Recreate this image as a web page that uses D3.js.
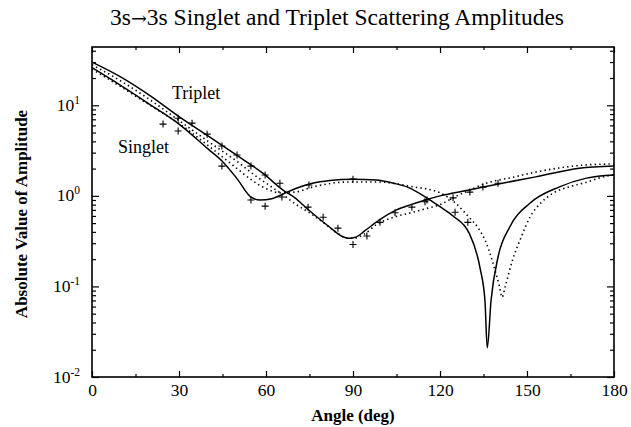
<!DOCTYPE html>
<html>
<head>
<meta charset="utf-8">
<script src="https://cdn.jsdelivr.net/npm/d3@7"></script>
<style>
  body { margin: 0; background: #fff; }
  svg { font-family: "Liberation Serif", "Times New Roman", serif; }
</style>
</head>
<body>
<svg width="631" height="427"></svg>
<script>
// curve data: [angle (deg), |amplitude|]
var singletSolid = [[0,26],[10,16.5],[20,10.2],[30,6.2],[40,3.3],[45,2.4],[50,1.55],[55,0.96],[58,0.9],[62,0.93],[66,1.05],[70,1.2],[76,1.38],[82,1.48],[90,1.53],[98,1.5],[104,1.38],[109,1.24],[115,0.97],[120,0.76],[124.5,0.6],[130,0.39],[133.8,0.16],[135.5,0.07],[136.3,0.021],[137.6,0.07],[140,0.21],[144,0.45],[151,0.83],[161,1.25],[170.5,1.57],[180,1.7]];
var tripletSolid = [[0,30],[10,20.5],[20,12.8],[30,7.5],[40,4.6],[50,2.8],[59,1.77],[66,1.15],[70,0.95],[74,0.73],[78,0.57],[82,0.45],[86,0.36],[88.5,0.34],[91,0.35],[94,0.41],[99,0.54],[105,0.7],[110,0.8],[115,0.9],[120,1.0],[130,1.16],[141.5,1.38],[153,1.62],[168,2.02],[180,2.14]];
var singletDotted = [[0,25],[10,16],[20,10],[30,6.3],[40,3.6],[50,2.0],[55,1.5],[60,1.2],[65,1.08],[70,1.1],[76,1.25],[88,1.42],[99,1.42],[110,1.27],[120,1.08],[125,0.85],[130,0.58],[133,0.45],[136,0.3],[139,0.15],[140.5,0.1],[141.4,0.076],[142.5,0.1],[145,0.195],[148,0.35],[151,0.58],[155,0.85],[159,1.07],[165,1.27],[170.7,1.42],[175,1.58],[180,1.72]];
var tripletDotted = [[0,28],[10,18.5],[20,11.5],[30,6.8],[40,4.0],[50,2.4],[56,1.7],[62,1.25],[66,1.02],[70,0.82],[76,0.62],[80,0.5],[84.5,0.39],[88,0.34],[90,0.34],[94,0.38],[98,0.48],[104,0.58],[110.7,0.66],[115,0.72],[120,0.8],[124.5,0.95],[130,1.15],[136,1.38],[145,1.6],[153,1.83],[162,2.05],[170.7,2.2],[180,2.25]];
// measured points (+)
var measured = [[24.5,6.2],[29.7,7.2],[29.7,5.2],[34.5,6.35],[39.7,4.8],[44.8,3.55],[44.8,2.13],[50,2.82],[54.8,2.13],[54.8,0.9],[59.7,1.7],[59.7,0.77],[64.8,1.38],[65.5,0.97],[74.5,0.75],[74.8,1.32],[79.7,0.58],[84.8,0.44],[90,1.53],[90,0.29],[94.8,0.36],[99.3,0.51],[104.5,0.65],[110.3,0.75],[114.8,0.86],[115.5,0.9],[124.5,0.95],[125.2,0.66],[129.6,0.51],[130.3,1.1],[134.8,1.25],[140,1.38]];

var xTicks = [0,30,60,90,120,150,180];
var xMinor = [15,45,75,105,135,165];
var yDecades = [0.01,0.1,1,10];

var svg = d3.select("svg");
var x = d3.scaleLinear().domain([0,180]).range([92,614]);
var y = d3.scaleLog().domain([0.01,44]).range([377,47]);

var yMinor = [];
yDecades.forEach(function(d) {
	for (var k = 2; k <= 9; k++) { if (d*k < 44) yMinor.push(d*k); }
});

// frame
svg.append("rect")
	.attr("x", x(0)).attr("y", y(44))
	.attr("width", x(180)-x(0)).attr("height", y(0.01)-y(44))
	.attr("fill", "none").attr("stroke", "#000").attr("stroke-width", 1.6);

function noDomain(g) { g.select(".domain").remove(); g.selectAll("line").attr("stroke","#000").attr("stroke-width",1.2); }

// bottom / top ticks pointing inward
svg.append("g").attr("transform","translate(0,"+y(0.01)+")")
	.call(d3.axisBottom(x).tickValues(xTicks).tickSize(-6).tickPadding(7).tickFormat(d3.format("d")))
	.call(noDomain)
	.selectAll("text").attr("font-size", 17.5).attr("fill","#000").attr("font-family","Liberation Serif");
svg.append("g").attr("transform","translate(0,"+y(0.01)+")")
	.call(d3.axisBottom(x).tickValues(xMinor).tickSize(-3).tickFormat(""))
	.call(noDomain);
svg.append("g").attr("transform","translate(0,"+y(44)+")")
	.call(d3.axisTop(x).tickValues(xTicks).tickSize(-6).tickFormat(""))
	.call(noDomain);
svg.append("g").attr("transform","translate(0,"+y(44)+")")
	.call(d3.axisTop(x).tickValues(xMinor).tickSize(-3).tickFormat(""))
	.call(noDomain);

// left / right ticks
var left = svg.append("g").attr("transform","translate("+x(0)+",0)")
	.call(d3.axisLeft(y).tickValues(yDecades).tickSize(-7).tickPadding(12).tickFormat(""))
	.call(noDomain);
svg.append("g").attr("transform","translate("+x(0)+",0)")
	.call(d3.axisLeft(y).tickValues(yMinor).tickSize(-4).tickFormat(""))
	.call(noDomain);
svg.append("g").attr("transform","translate("+x(180)+",0)")
	.call(d3.axisRight(y).tickValues(yDecades).tickSize(-7).tickFormat(""))
	.call(noDomain);
svg.append("g").attr("transform","translate("+x(180)+",0)")
	.call(d3.axisRight(y).tickValues(yMinor).tickSize(-4).tickFormat(""))
	.call(noDomain);

// y labels as 10 with superscript
left.selectAll(".tick").each(function(d) {
	var t = d3.select(this).select("text")
		.attr("font-size", 17.5).attr("fill","#000").attr("font-family","Liberation Serif")
		.attr("dy", null).attr("y", 5).attr("x", -12).text(null);
	t.append("tspan").text("10");
	t.append("tspan").attr("dy", -7).attr("font-size", 11.5).text(Math.round(Math.log10(d)));
});

var line = d3.line()
	.x(function(d) { return x(d[0]); })
	.y(function(d) { return y(d[1]); })
	.curve(d3.curveMonotoneX);

svg.append("path").datum(singletSolid).attr("d", line)
	.attr("fill","none").attr("stroke","#000").attr("stroke-width",1.5);
svg.append("path").datum(tripletSolid).attr("d", line)
	.attr("fill","none").attr("stroke","#000").attr("stroke-width",1.5);
svg.append("path").datum(singletDotted).attr("d", line)
	.attr("fill","none").attr("stroke","#000").attr("stroke-width",1.6)
	.attr("stroke-dasharray","1.4,3.2");
svg.append("path").datum(tripletDotted).attr("d", line)
	.attr("fill","none").attr("stroke","#000").attr("stroke-width",1.6)
	.attr("stroke-dasharray","1.4,3.2");

// plus markers
svg.append("g").selectAll("path.pt")
	.data(measured).enter().append("path")
	.attr("d", function(d) {
		var px = x(d[0]), py = y(d[1]);
		return "M"+(px-3.5)+","+py+"H"+(px+3.5)+"M"+px+","+(py-3.5)+"V"+(py+3.5);
	})
	.attr("stroke","#000").attr("stroke-width",1.1).attr("fill","none");

// annotations
svg.append("text").attr("x", 172).attr("y", 99).attr("font-size", 18).text("Triplet");
svg.append("text").attr("x", 118).attr("y", 153).attr("font-size", 18).text("Singlet");

// titles
var title = svg.append("text").attr("x", 337).attr("y", 25).attr("text-anchor","middle")
	.attr("font-size", 23.5);
title.append("tspan").text("3s");
title.append("tspan").attr("font-family","DejaVu Serif").attr("font-size", 19).text("\u2192");
title.append("tspan").text("3s Singlet and Triplet Scattering Amplitudes");
svg.append("text").attr("x", 353).attr("y", 421).attr("text-anchor","middle")
	.attr("font-size", 17).attr("font-weight","bold").text("Angle (deg)");
svg.append("text").attr("transform","translate(27,214) rotate(-90)").attr("text-anchor","middle")
	.attr("font-size", 17).attr("font-weight","bold").text("Absolute Value of Amplitude");
</script>
</body>
</html>
